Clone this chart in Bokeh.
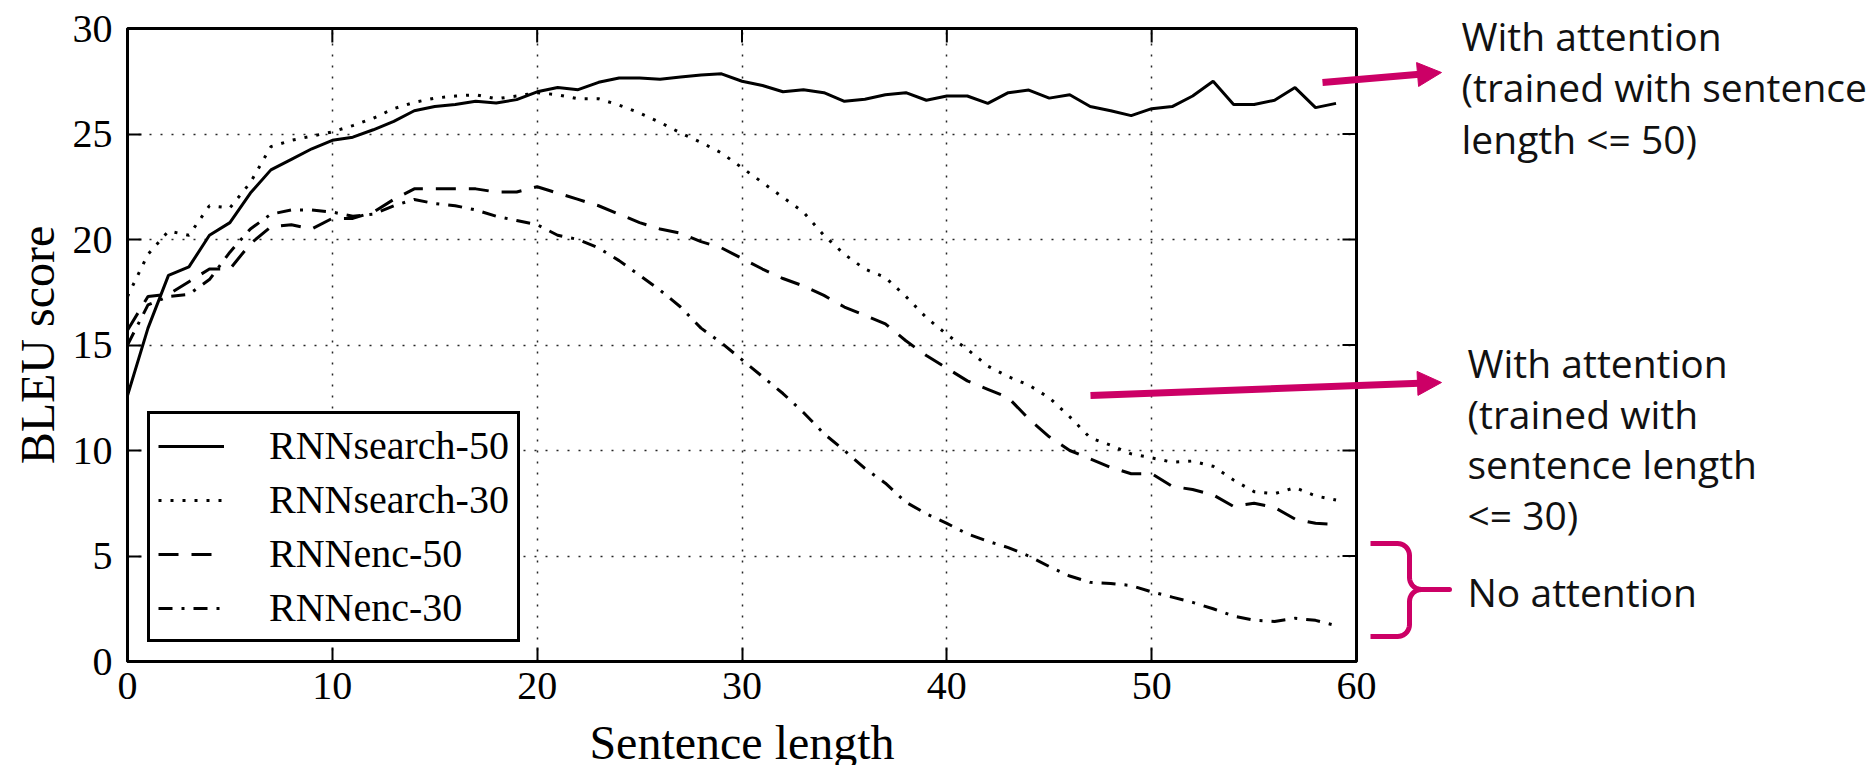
import numpy as np
from math import pi
from bokeh.plotting import figure
from bokeh.models import Range1d, FixedTicker
from bokeh.core.properties import value
from bokeh.embed import file_html
from bokeh.resources import INLINE

# ---------------- data ----------------
sentence_length = list(range(60))

rnnsearch_50 = [12.6, 15.8, 18.3, 18.7, 20.2, 20.8, 22.2, 23.3, 23.8, 24.3,
                24.7, 24.85, 25.2, 25.6, 26.1, 26.3, 26.4, 26.55, 26.47, 26.63,
                27.0, 27.2, 27.1, 27.45, 27.65, 27.65, 27.6, 27.7, 27.8, 27.85,
                27.5, 27.3, 27.0, 27.1, 26.96, 26.55, 26.65, 26.86, 26.96, 26.6,
                26.8, 26.8, 26.45, 26.96, 27.08, 26.7, 26.86, 26.3, 26.1, 25.87,
                26.2, 26.3, 26.8, 27.5, 26.4, 26.4, 26.6, 27.2, 26.25, 26.45]

rnnsearch_30 = [17.3, 19.3, 20.4, 20.2, 21.6, 21.5, 22.7, 24.4, 24.7, 24.9,
                25.1, 25.4, 25.75, 26.2, 26.5, 26.7, 26.8, 26.86, 26.67, 26.8,
                26.96, 26.86, 26.67, 26.67, 26.37, 26.0, 25.55, 25.05, 24.6, 24.1,
                23.4, 22.7, 22.0, 21.3, 20.2, 19.3, 18.6, 18.2, 17.3, 16.3,
                15.5, 14.8, 14.0, 13.5, 13.1, 12.5, 11.6, 10.6, 10.25, 9.84,
                9.65, 9.45, 9.5, 9.25, 8.6, 8.05, 7.95, 8.24, 7.85, 7.65]

rnnenc_50 = [15.7, 17.3, 17.4, 18.0, 18.6, 18.6, 19.8, 20.6, 20.7, 20.5,
             21.0, 21.0, 21.3, 21.9, 22.4, 22.4, 22.4, 22.4, 22.25, 22.25,
             22.5, 22.2, 21.9, 21.6, 21.2, 20.8, 20.5, 20.3, 19.9, 19.6,
             19.1, 18.6, 18.15, 17.8, 17.35, 16.8, 16.4, 16.0, 15.2, 14.5,
             13.9, 13.3, 12.9, 12.5, 11.5, 10.65, 10.0, 9.6, 9.2, 8.9,
             8.9, 8.3, 8.15, 7.9, 7.35, 7.5, 7.3, 6.75, 6.55, 6.5]

rnnenc_30 = [15.0, 16.9, 17.3, 17.4, 18.1, 19.4, 20.5, 21.2, 21.4, 21.4,
             21.3, 21.1, 21.2, 21.6, 21.9, 21.7, 21.6, 21.4, 21.1, 20.9,
             20.7, 20.2, 20.0, 19.6, 19.0, 18.3, 17.6, 16.8, 15.8, 15.1,
             14.3, 13.5, 12.7, 11.8, 10.8, 10.0, 9.15, 8.45, 7.55, 7.0,
             6.55, 6.05, 5.7, 5.4, 5.0, 4.5, 4.05, 3.75, 3.7, 3.6,
             3.3, 3.05, 2.8, 2.5, 2.15, 1.96, 1.9, 2.05, 1.95, 1.7]

series_names = ["RNNsearch-50", "RNNsearch-30", "RNNenc-50", "RNNenc-30"]
x_ticks = [0, 10, 20, 30, 40, 50, 60]
y_ticks = [0, 5, 10, 15, 20, 25, 30]

x_title = "Sentence length"
y_title = "BLEU score"
notes = [
    ["With attention", "(trained with sentence", "length <= 50)"],
    ["With attention", "(trained with", "sentence length", "<= 30)"],
    ["No attention"],
]

# ---------------- layout (page pixels) ----------------
W, H = 1868, 765
PX0, PX1, PY0, PY1 = 127.0, 1356.0, 661.0, 28.0     # plot frame edges
PINK = "#CC0066"
SERIF = "Liberation Serif"
SANS = "Open Sans"

p = figure(width=W, height=H, x_range=Range1d(0, 60), y_range=Range1d(0, 30),
           output_backend="svg", toolbar_location=None,
           min_border_left=int(PX0), min_border_right=int(W - PX1),
           min_border_top=int(PY1), min_border_bottom=int(H - PY0))
p.background_fill_color = "white"
p.border_fill_color = "white"
p.outline_line_color = "black"
p.outline_line_width = 3

def dx(px):
    return (px - PX0) / (PX1 - PX0) * 60.0
def dy(py):
    return (PY0 - py) / (PY0 - PY1) * 30.0

# axes
p.xaxis.ticker = FixedTicker(ticks=x_ticks)
p.yaxis.ticker = FixedTicker(ticks=y_ticks)
for ax in list(p.xaxis) + list(p.yaxis):
    ax.axis_line_width = 3
    ax.major_tick_in = 14
    ax.major_tick_out = 0
    ax.major_tick_line_width = 2
    ax.minor_tick_line_color = None
    ax.major_label_text_font = SERIF
    ax.major_label_text_font_size = "40px"
    ax.major_label_text_color = "black"
p.xaxis.major_label_standoff = 11
p.yaxis.major_label_standoff = 15

# inward ticks on top and right edges
TICK = 14
p.segment(x0=x_ticks, y0=[30] * len(x_ticks), x1=x_ticks,
          y1=[30 - TICK / (PY0 - PY1) * 30] * len(x_ticks), line_color="black", line_width=2)
p.segment(x0=[60] * len(y_ticks), y0=y_ticks, x1=[60 - TICK / (PX1 - PX0) * 60] * len(y_ticks),
          y1=y_ticks, line_color="black", line_width=2)

# grid
p.xgrid.ticker = FixedTicker(ticks=x_ticks)
p.ygrid.ticker = FixedTicker(ticks=y_ticks)
for g in (p.xgrid, p.ygrid):
    g.grid_line_color = "black"
    g.grid_line_width = 1.5
    g.grid_line_dash = "2 9"
    g.grid_line_alpha = 0.85

# series
styles = ["solid", "3 9", "20 13", "14 9 3 9"]
for name, ys, dash in zip(series_names, [rnnsearch_50, rnnsearch_30, rnnenc_50, rnnenc_30], styles):
    p.line(sentence_length, ys, line_color="black", line_width=3,
           line_dash=dash, legend_label=name)

leg = p.legend[0]
leg.location = (20, 19)
leg.border_line_color = "black"
leg.border_line_alpha = 1
leg.border_line_width = 3
leg.background_fill_color = "white"
leg.background_fill_alpha = 1
leg.label_text_font = SERIF
leg.label_text_font_size = "40px"
leg.label_text_color = "black"
leg.label_standoff = 45
leg.glyph_width = 66
leg.glyph_height = 44
leg.label_height = 44
leg.spacing = 7
leg.padding = 8
leg.margin = 0

# axis titles (drawn unclipped)
p.text(x=[30], y=[dy(742)], text=[x_title], text_align="center",
       text_baseline="alphabetic", text_font=value(SERIF), text_font_size="48px",
       text_color="black", level="overlay")
p.text(x=[dx(37)], y=[15], text=[y_title], angle=pi / 2, text_align="center",
       text_baseline="alphabetic", text_font=value(SERIF), text_font_size="48px",
       text_color="black", level="overlay")

# arrows: shaft + triangular head, geometry in page pixels
HEAD_L, HEAD_W = 24, 24
for (sx, sy, ex, ey) in [(1322, 82, 1441, 72), (1090, 395, 1441, 382)]:
    vx, vy = ex - sx, ey - sy
    L = (vx * vx + vy * vy) ** 0.5
    ux, uy = vx / L, vy / L
    bx_, by_ = ex - ux * HEAD_L, ey - uy * HEAD_L
    nx, ny = -uy, ux
    p.line([dx(sx), dx(bx_ + ux * 2)], [dy(sy), dy(by_ + uy * 2)], line_color=PINK,
           line_width=7, level="overlay")
    p.patch([dx(ex), dx(bx_ + nx * HEAD_W / 2), dx(bx_ - nx * HEAD_W / 2)],
            [dy(ey), dy(by_ + ny * HEAD_W / 2), dy(by_ - ny * HEAD_W / 2)],
            fill_color=PINK, line_color=PINK, line_width=1, level="overlay")

# annotation texts (anchor offset compensates for the text box placement)
blocks = [(1461, [49, 100, 152]), (1467, [376, 427, 477, 528]), (1467, [605])]
SHIFT = 14
tx, ty, tt = [], [], []
for (left, baselines), lines in zip(blocks, notes):
    for b, t in zip(baselines, lines):
        tx.append(dx(left)); ty.append(dy(b - SHIFT)); tt.append(t)
p.text(x=tx, y=ty, text=tt, text_font=value(SANS), text_font_size="39px",
       text_baseline="alphabetic", text_align="left", text_color="#111111", level="overlay")

# curly brace
r = 12
def arc(cx, cy, a0, a1, n=10):
    t = np.radians(np.linspace(a0, a1, n))
    return list(cx + r * np.cos(t)), list(cy - r * np.sin(t))
bx, by = [1370.0], [543.0]
for seg in [arc(1397, 555, 90, 0), arc(1421, 577, 180, 270)]:
    bx += seg[0]; by += seg[1]
bx += [1449.0]; by += [589.0]
for seg in [arc(1421, 601, 90, 180), arc(1397, 624, 0, -90)]:
    bx += seg[0]; by += seg[1]
bx += [1370.0]; by += [636.0]
p.line([dx(v) for v in bx], [dy(v) for v in by], line_color=PINK, line_width=5,
       line_join="round", level="overlay")

open("out.html", "w").write(file_html(p, INLINE))
